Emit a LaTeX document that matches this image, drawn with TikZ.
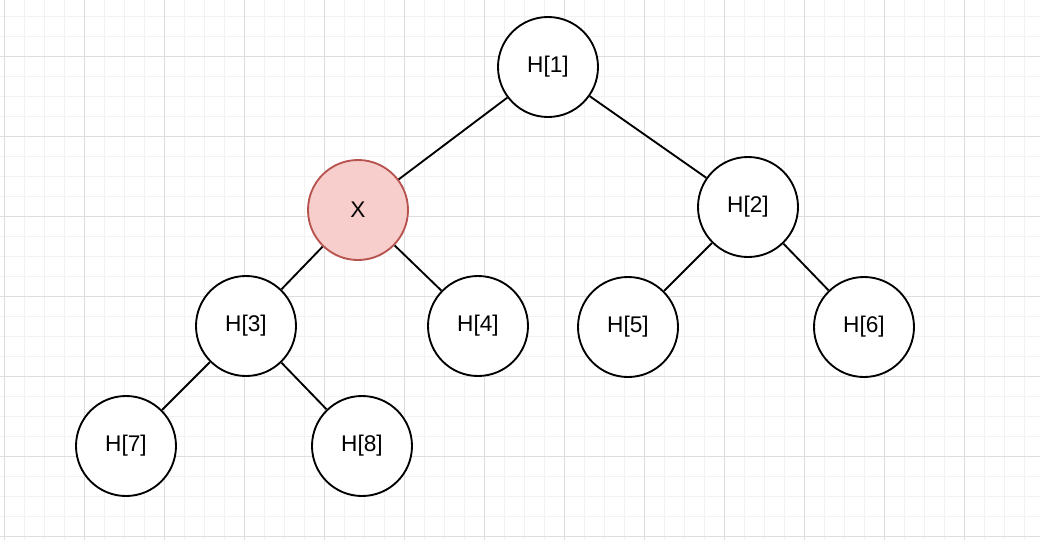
\documentclass[tikz,border=0pt]{standalone}
\usepackage{fontspec}
\setmainfont{Liberation Sans}
\usepackage{tikz}
\definecolor{xfill}{HTML}{F8CECC}
\definecolor{xdraw}{HTML}{B85450}

\begin{document}
\begin{tikzpicture}[x=0.75pt,y=-0.75pt,font=\fontsize{17}{20}\selectfont]
            \tikzstyle{heap}=[draw,circle,line width=1.4pt,fill=white,minimum size=75pt,inner sep=0pt]
            \tikzstyle{hit}=[heap,fill=xfill,draw=xdraw]
            \tikzstyle{edge}=[line width=1.4pt]
            \useasboundingbox (0,0) rectangle (1040,540);
            \fill[white] (0,0) rectangle (1040,540);
            % grid
            \foreach \x in {4,24,...,1040} \draw[black!5,line width=0.75pt] (\x,0) -- (\x,540);
            \foreach \y in {16,36,...,540} \draw[black!5,line width=0.75pt] (0,\y) -- (1040,\y);
            \foreach \x in {4,84,...,1040} \draw[black!13,line width=0.75pt] (\x,0) -- (\x,540);
            \foreach \y in {56,136,...,540} \draw[black!13,line width=0.75pt] (0,\y) -- (1040,\y);

            \node[heap] (h1) at (548,67) {H[1]};
            \node[hit] (x) at (358,210) {X};
            \node[heap] (h2) at (748,207) {H[2]};
            \node[heap] (h3) at (246,326) {H[3]};
            \node[heap] (h4) at (478,326) {H[4]};
            \node[heap] (h5) at (628,327) {H[5]};
            \node[heap] (h6) at (864,327) {H[6]};
            \node[heap] (h7) at (126,446) {H[7]};
            \node[heap] (h8) at (362,446) {H[8]};

            \draw[edge] (h1) -- (x);
            \draw[edge] (h1) -- (h2);
            \draw[edge] (x) -- (h3);
            \draw[edge] (x) -- (h4);
            \draw[edge] (h2) -- (h5);
            \draw[edge] (h2) -- (h6);
            \draw[edge] (h3) -- (h7);
            \draw[edge] (h3) -- (h8);
        \end{tikzpicture}
\end{document}
